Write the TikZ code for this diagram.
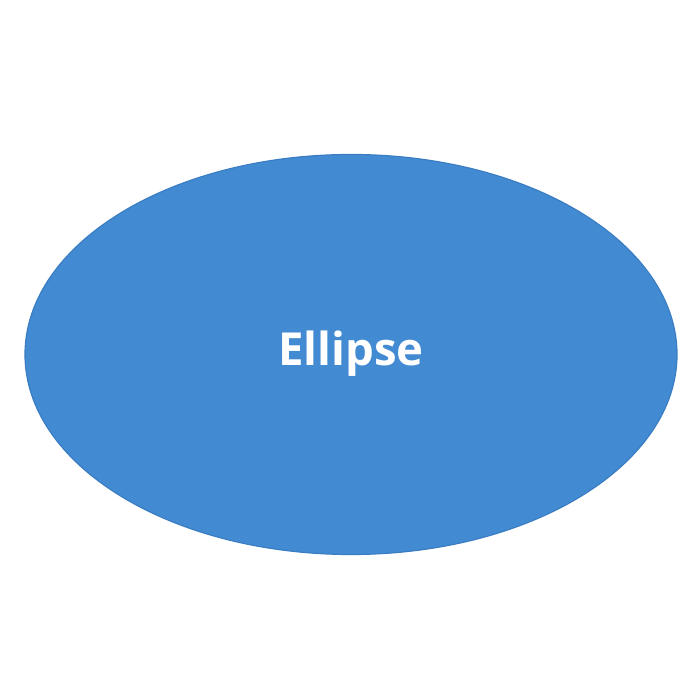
\documentclass[tikz,border=0pt]{standalone}
\usepackage{fontspec}
\setmainfont{Open Sans}
\usetikzlibrary{shapes.geometric}
\definecolor{ellfill}{HTML}{428BD3}
\definecolor{elldraw}{HTML}{3A7DC2}
\tikzset{ellbox/.style={ellipse, fill=ellfill, draw=elldraw, line width=1.2pt, minimum width=652pt, minimum height=400pt, inner sep=0pt},
ellfont/.style={text=white, font=\fontsize{45.5}{54}\selectfont\bfseries}}
\begin{document}
\begin{tikzpicture}[x=1pt,y=1pt]
\useasboundingbox (0,0) rectangle (700,700);
\node[ellbox] (e) at (351,345.5) {};
\node[ellfont, anchor=base] (t) at (351,334) {Ellipse};
\end{tikzpicture}
\end{document}
